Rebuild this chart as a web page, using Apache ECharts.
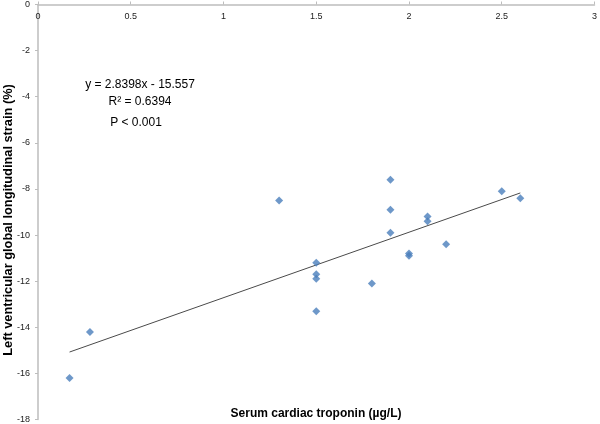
<!DOCTYPE html>
<html>
<head>
<meta charset="utf-8">
<script src="https://cdn.jsdelivr.net/npm/echarts@6/dist/echarts.min.js"></script>
<style>
html,body{margin:0;padding:0;background:#fff;}
#chart{width:600px;height:424px;}
</style>
</head>
<body>
<div id="chart"></div>
<script>
// Data
var troponin = [0.17, 0.28, 1.3, 1.5, 1.5, 1.5, 1.5, 1.8, 1.9, 1.9, 1.9, 2.0, 2.0, 2.1, 2.1, 2.2, 2.5, 2.6];
var strain   = [-16.2, -14.2, -8.5, -11.2, -11.7, -11.9, -13.3, -12.1, -7.6, -8.9, -9.9, -10.8, -10.9, -9.2, -9.4, -10.4, -8.1, -8.4];
var xTicks = [0, 0.5, 1, 1.5, 2, 2.5, 3];
var yTicks = [0, -2, -4, -6, -8, -10, -12, -14, -16, -18];
var slope = 2.8398, intercept = -15.557;
var trendX = [0.17, 2.6];
var annotations = ['y = 2.8398x - 15.557', 'R\u00B2 = 0.6394', 'P < 0.001'];
var xTitle = 'Serum cardiac troponin (\u00B5g/L)';
var yTitle = 'Left ventricular global longitudinal strain (%)';

var points = troponin.map(function (x, i) { return [x, strain[i]]; });
var trend = trendX.map(function (x) { return [x, slope * x + intercept]; });

var chart = echarts.init(document.getElementById('chart'));
var font = '"Liberation Sans", Arial, sans-serif';
chart.setOption({
  animation: false,
  grid: { left: 38, right: 3, top: 4, bottom: 3, containLabel: false },
  xAxis: {
    type: 'value', position: 'top', min: 0, max: 3, interval: 0.5,
    axisLine: { show: true, onZero: false, lineStyle: { color: '#bdbdbd', width: 1.5 } },
    axisTick: { show: true, inside: false, length: 3, lineStyle: { color: '#bdbdbd' } },
    axisLabel: { inside: true, margin: 8, fontSize: 9, color: '#222', fontFamily: font,
      formatter: function (v) { return String(v); } },
    splitLine: { show: false }
  },
  yAxis: {
    type: 'value', min: -18, max: 0, interval: 2,
    axisLine: { show: true, onZero: false, lineStyle: { color: '#bdbdbd', width: 1.5 } },
    axisTick: { show: true, inside: false, length: 3, lineStyle: { color: '#bdbdbd' } },
    axisLabel: { margin: 8, fontSize: 9, color: '#222', fontFamily: font },
    splitLine: { show: false }
  },
  series: [
    {
      type: 'line', data: trend, symbol: 'none', silent: true,
      lineStyle: { color: '#4a4a4a', width: 1 }, z: 1
    },
    {
      type: 'scatter', data: points, symbol: 'diamond', symbolSize: 8,
      itemStyle: { color: '#4a7ebb' }, z: 2
    }
  ],
  graphic: [
    { type: 'text', x: 140, y: 85, style: { text: annotations[0], font: '12px ' + font, fill: '#000', align: 'center', verticalAlign: 'middle' } },
    { type: 'text', x: 140, y: 102, style: { text: annotations[1], font: '12px ' + font, fill: '#000', align: 'center', verticalAlign: 'middle' } },
    { type: 'text', x: 136, y: 123, style: { text: annotations[2], font: '12px ' + font, fill: '#000', align: 'center', verticalAlign: 'middle' } },
    { type: 'text', x: 316, y: 414, style: { text: xTitle, font: 'bold 12px ' + font, fill: '#000', align: 'center', verticalAlign: 'middle' } },
    { type: 'text', x: 8, y: 220, rotation: Math.PI / 2, style: { text: yTitle, font: 'bold 12.8px ' + font, fill: '#000', align: 'center', verticalAlign: 'middle' } }
  ]
});
</script>
</body>
</html>
